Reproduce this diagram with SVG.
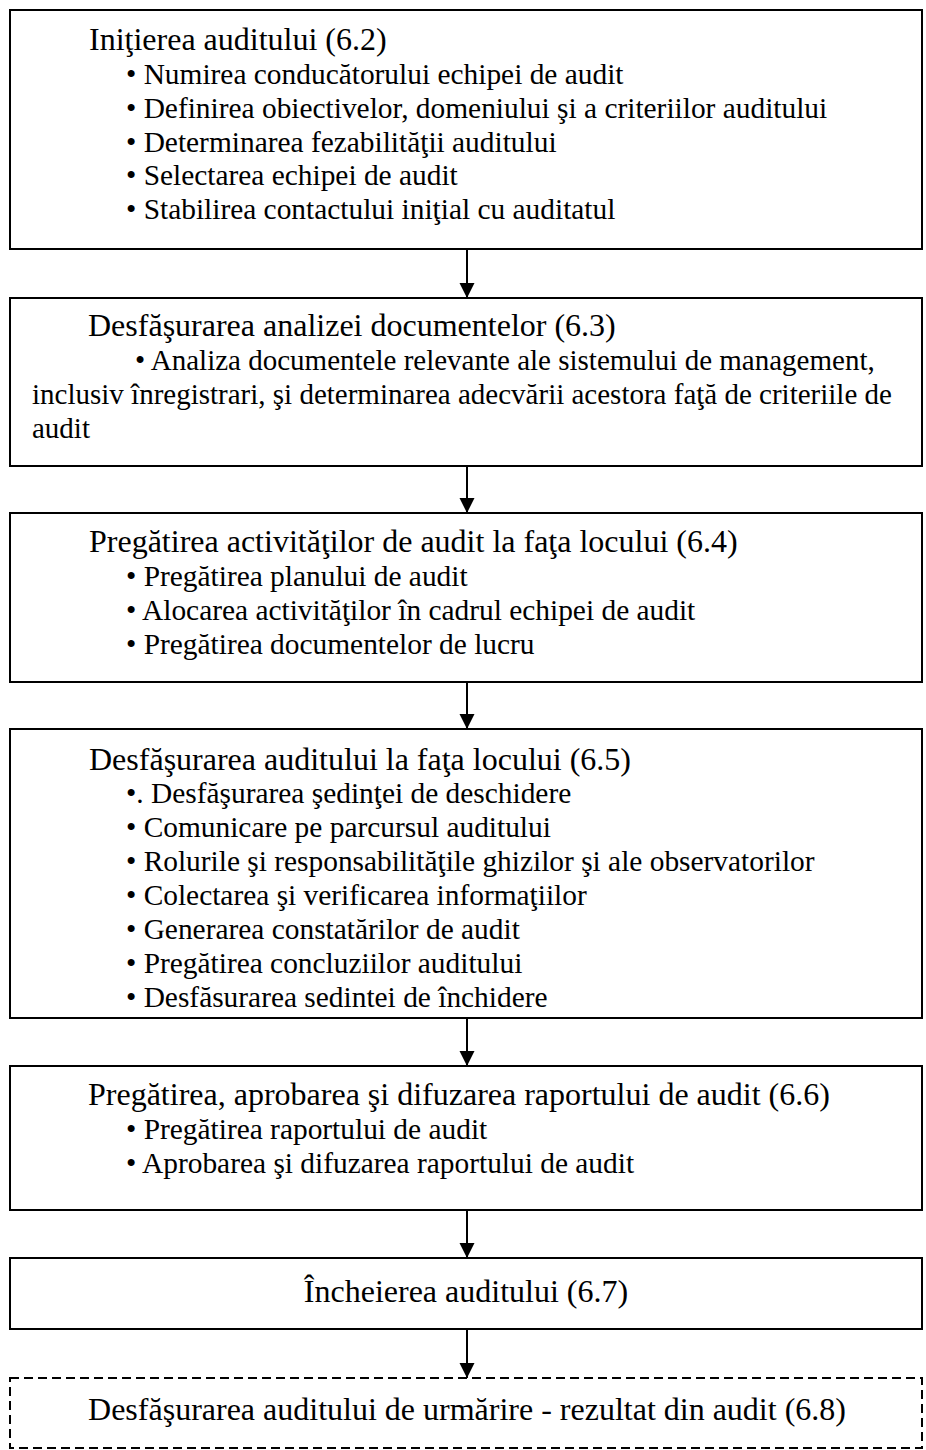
<svg xmlns="http://www.w3.org/2000/svg" width="926" height="1450" viewBox="0 0 926 1450">
<style>
.box{fill:#fff;stroke:#000;stroke-width:2}
.dash{stroke-dasharray:9 5}
text{font-family:"Liberation Serif","Times New Roman",serif;fill:#000}
.t{font-size:32px}
.b{font-size:29.4px}
.p{font-size:29px}
.c{stroke:#000;stroke-width:2;fill:none}
</style>
<defs>
<marker id="ah" markerUnits="userSpaceOnUse" markerWidth="16" markerHeight="16" refX="15" refY="7.5" orient="auto">
<path d="M0,0 L15,7.5 L0,15 z" fill="#000"/>
</marker>
</defs>
<rect width="926" height="1450" fill="#fff"/>
<g id="n1">
<rect class="box" x="10" y="10" width="912" height="239"/>
<text class="t" x="89" y="50">Iniţierea auditului (6.2)</text>
<text class="b" x="126" y="84">• Numirea conducătorului echipei de audit</text>
<text class="b" x="126" y="118">• Definirea obiectivelor, domeniului şi a criteriilor auditului</text>
<text class="b" x="126" y="151.5">• Determinarea fezabilităţii auditului</text>
<text class="b" x="126" y="185">• Selectarea echipei de audit</text>
<text class="b" x="126" y="219">• Stabilirea contactului iniţial cu auditatul</text>
</g>
<g id="n2">
<rect class="box" x="10" y="298" width="912" height="168"/>
<text class="t" x="88" y="336">Desfăşurarea analizei documentelor (6.3)</text>
<text class="p" x="135" y="370">• Analiza documentele relevante ale sistemului de management,</text>
<text class="p" x="32" y="404">inclusiv înregistrari, şi determinarea adecvării acestora faţă de criteriile de</text>
<text class="p" x="32" y="438">audit</text>
</g>
<g id="n3">
<rect class="box" x="10" y="513" width="912" height="169"/>
<text class="t" x="89" y="552">Pregătirea activităţilor de audit la faţa locului (6.4)</text>
<text class="b" x="126" y="586">• Pregătirea planului de audit</text>
<text class="b" x="126" y="620">• Alocarea activităţilor în cadrul echipei de audit</text>
<text class="b" x="126" y="654">• Pregătirea documentelor de lucru</text>
</g>
<g id="n4">
<rect class="box" x="10" y="729" width="912" height="289"/>
<text class="t" x="89" y="770">Desfăşurarea auditului la faţa locului (6.5)</text>
<text class="b" x="126" y="803">•. Desfăşurarea şedinţei de deschidere</text>
<text class="b" x="126" y="837">• Comunicare pe parcursul auditului</text>
<text class="b" x="126" y="871">• Rolurile şi responsabilităţile ghizilor şi ale observatorilor</text>
<text class="b" x="126" y="905">• Colectarea şi verificarea informaţiilor</text>
<text class="b" x="126" y="939">• Generarea constatărilor de audit</text>
<text class="b" x="126" y="973">• Pregătirea concluziilor auditului</text>
<text class="b" x="126" y="1007">• Desfăsurarea sedintei de închidere</text>
</g>
<g id="n5">
<rect class="box" x="10" y="1066" width="912" height="144"/>
<text class="t" x="88" y="1105">Pregătirea, aprobarea şi difuzarea raportului de audit (6.6)</text>
<text class="b" x="126" y="1139">• Pregătirea raportului de audit</text>
<text class="b" x="126" y="1173">• Aprobarea şi difuzarea raportului de audit</text>
</g>
<g id="n6">
<rect class="box" x="10" y="1258" width="912" height="71"/>
<text class="t" x="466" y="1302" text-anchor="middle">Încheierea auditului (6.7)</text>
</g>
<g id="n7">
<rect class="box dash" x="10" y="1378" width="912" height="70"/>
<text class="t" x="467" y="1420" text-anchor="middle">Desfăşurarea auditului de urmărire - rezultat din audit (6.8)</text>
</g>
<g id="connectors">
<line class="c" x1="467" y1="249" x2="467" y2="298" marker-end="url(#ah)"/>
<line class="c" x1="467" y1="466" x2="467" y2="513" marker-end="url(#ah)"/>
<line class="c" x1="467" y1="682" x2="467" y2="729" marker-end="url(#ah)"/>
<line class="c" x1="467" y1="1018" x2="467" y2="1066" marker-end="url(#ah)"/>
<line class="c" x1="467" y1="1210" x2="467" y2="1258" marker-end="url(#ah)"/>
<line class="c" x1="467" y1="1329" x2="467" y2="1378" marker-end="url(#ah)"/>
</g>
</svg>
